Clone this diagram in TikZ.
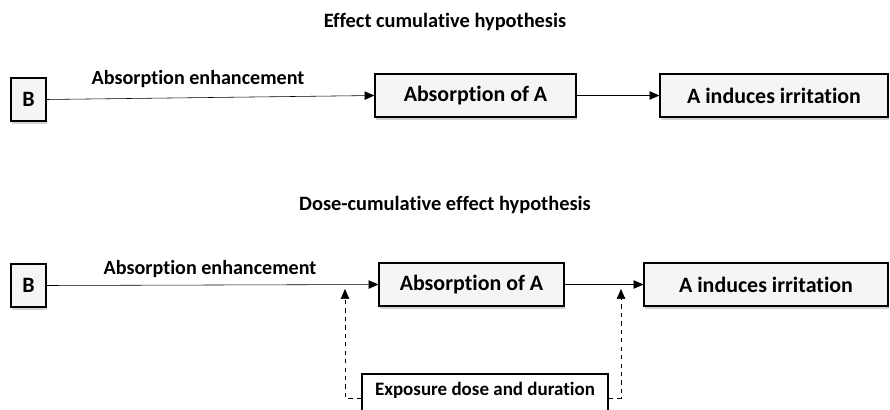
\documentclass[tikz,border=0pt]{standalone}
\usepackage{fontspec}
\setmainfont{Carlito}[Ligatures=NoCommon]
\usetikzlibrary{arrows.meta,shadows}

\begin{document}
\begin{tikzpicture}[x=0.025cm, y=-0.025cm, font=\bfseries,
  box/.style={draw, thick, fill=gray!8, minimum height=1.075cm, inner sep=0pt,
    drop shadow={opacity=0.35, shadow xshift=1pt, shadow yshift=-2pt},
    font=\bfseries\fontsize{15.6}{18}\selectfont},
  ttl/.style={font=\bfseries\fontsize{14.5}{17}\selectfont},
  lbl/.style={font=\bfseries\fontsize{14.3}{17}\selectfont},
  arr/.style={-{Triangle[length=7pt, width=6pt]}}]
\useasboundingbox (0,0) rectangle (890,409);
% effect cumulative
\node[ttl] (t1) at (445,22) {Effect cumulative hypothesis};
\node[box, minimum width=0.875cm] (b1) at (28.5,99.5) {B};
\node[box, minimum width=5.025cm] (abs1) at (475.5,95.5) {Absorption of A};
\node[box, minimum width=5.7cm] (irr1) at (774,95.5) {A induces irritation};
\node[lbl] (e1) at (198,79) {Absorption enhancement};
\draw[arr] (b1.east) -- (abs1.west);
\draw[arr] (abs1) -- (irr1);
% dose-cumulative effect
\node[ttl] (t2) at (445,205) {Dose-cumulative effect hypothesis};
\node[box, minimum width=0.875cm] (b2) at (28.5,285.5) {B};
\node[box, minimum width=4.625cm] (abs2) at (471.5,284.5) {Absorption of A};
\node[box, minimum width=6.1cm] (irr2) at (766,284.5) {A induces irritation};
\node[lbl] (e2) at (210,269) {Absorption enhancement};
\node[draw, very thick, fill=white, minimum width=6.15cm, minimum height=1.05cm,
  font=\bfseries\fontsize{13.5}{16}\selectfont, anchor=north] (expo) at (485,373)
  {\raisebox{0.3cm}{Exposure dose and duration}};
\coordinate (d1) at (345,289);
\coordinate (d2) at (621,289);
\draw[arr] (b2.east) -- (abs2.west);
\draw[arr] (abs2) -- (irr2);
\draw[arr, dashed] ([yshift=-0.62cm]expo.north west) -| (d1);
\draw[arr, dashed] ([yshift=-0.62cm]expo.north east) -| (d2);
\end{tikzpicture}
\end{document}
